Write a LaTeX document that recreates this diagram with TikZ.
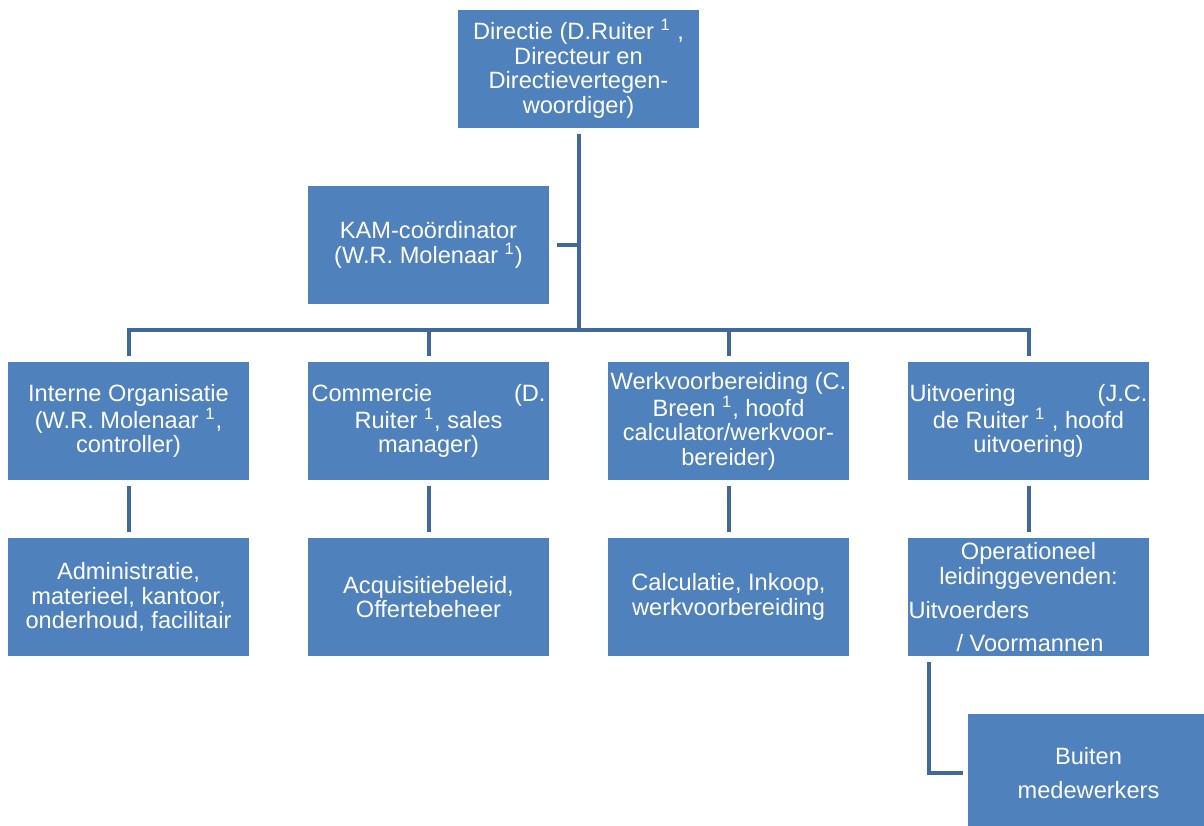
\documentclass[tikz,border=0pt]{standalone}
\usepackage{fontspec}
\setmainfont{Liberation Sans}
\usetikzlibrary{positioning}

\definecolor{boxblue}{HTML}{4F81BD}
\definecolor{lineblue}{HTML}{41689C}

\begin{document}
\begin{tikzpicture}[
    x=0.5pt, y=-0.5pt, % one unit is one pixel of the reference
    box/.style={fill=boxblue, text=white, inner sep=0pt, align=center,
        minimum width=120.5pt, minimum height=59pt,
        font=\fontsize{11.8}{12.3}\selectfont},
    link/.style={draw=lineblue, line width=2pt},
]
\useasboundingbox (0,0) rectangle (1204,825);

% top level
\node[box] (dir) at (578.5,69) {Directie (D.Ruiter \textsuperscript{1} ,\\ Directeur en\\ Directievertegen-\\ woordiger)};
\node[box] (kam) at (428.5,245) {KAM-coördinator\\ (W.R. Molenaar \textsuperscript{1})};

% departments
\node[box] (intern) at (128.5,421) {Interne Organisatie\\ (W.R. Molenaar \textsuperscript{1},\\ controller)};
\node[box] (comm) at (428.5,421) {\hbox to 117pt{Commercie\hfill(D.}\\ Ruiter \textsuperscript{1}, sales\\ manager)};
\node[box] (wvb) at (728.5,421) {Werkvoorbereiding (C.\\ Breen \textsuperscript{1}, hoofd\\ calculator/werkvoor-\\ bereider)};
\node[box] (uitv) at (1028.5,421) {\hbox to 119pt{Uitvoering\hfill(J.C.}\\ de Ruiter \textsuperscript{1} , hoofd\\ uitvoering)};

% tasks
\node[box] (adm) at (128.5,597) {Administratie,\\ materieel, kantoor,\\ onderhoud, facilitair};
\node[box] (acq) at (428.5,597) {Acquisitiebeleid,\\ Offertebeheer};
\node[box] (calc) at (728.5,597) {Calculatie, Inkoop,\\ werkvoorbereiding};
\node[box] (ops) at (1028.5,597) {Operationeel\\ leidinggevenden:\\[5pt] \hbox to 120pt{Uitvoerders\hfill}\\[4pt] \hbox to 120pt{\hspace{24pt}/ Voormannen\hfill}};
\node[box, font=\fontsize{11.8}{17}\selectfont] (buiten) at (1088.5,773) {Buiten\\ medewerkers};

% connectors
\coordinate (hub) at (578.5,330);
\draw[link, shorten <=3pt] (dir.south) -- (hub);
\draw[link, shorten <=4pt] (kam.east) -- (kam.east -| dir.south);
\draw[link, shorten <=3pt, shorten >=3pt] (intern.north) -- (intern.north |- hub) -- (uitv.north |- hub) -- (uitv.north);
\draw[link, shorten >=3pt] (comm.north |- hub) -- (comm.north);
\draw[link, shorten >=3pt] (wvb.north |- hub) -- (wvb.north);
\foreach \top/\low in {intern/adm, comm/acq, wvb/calc, uitv/ops}
    \draw[link, shorten <=3pt, shorten >=3pt] (\top.south) -- (\low.north);
\draw[link, shorten <=3pt, shorten >=2.5pt] ([xshift=10.5pt]ops.south west) |- (buiten.west);
\end{tikzpicture}
\end{document}
